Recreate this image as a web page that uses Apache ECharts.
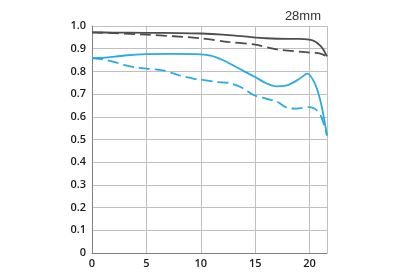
<!DOCTYPE html>
<html><head><meta charset="utf-8">
<script src="https://cdn.jsdelivr.net/npm/echarts@6/dist/echarts.min.js"></script>
<style>html,body{margin:0;padding:0;background:#fff}#c{width:400px;height:280px}</style>
</head><body><div id="c"></div>
<script>
const title = '28mm';
const xTicks = [0, 5, 10, 15, 20];
const yTicks = [0, 0.1, 0.2, 0.3, 0.4, 0.5, 0.6, 0.7, 0.8, 0.9, 1.0];

const sagSolidX = [0, 2, 5, 8, 10, 12, 14, 16, 18, 19, 20, 20.5, 21, 21.3, 21.6];
const sagSolidY = [0.972, 0.971, 0.970, 0.969, 0.967, 0.962, 0.954, 0.946, 0.943, 0.943, 0.940, 0.932, 0.912, 0.893, 0.866];

const merDashX = [0, 5, 10, 12.5, 15, 17, 20, 21, 21.6];
const merDashY = [0.972, 0.962, 0.946, 0.930, 0.918, 0.897, 0.883, 0.878, 0.866];

const blueSolidX = [0, 1, 3, 5, 7, 10, 11, 12, 13, 14, 15, 16, 17, 18, 19, 19.8, 20.5, 21, 21.3, 21.6];
const blueSolidY = [0.859, 0.860, 0.870, 0.876, 0.877, 0.875, 0.868, 0.850, 0.826, 0.800, 0.775, 0.748, 0.734, 0.740, 0.765, 0.790, 0.745, 0.670, 0.600, 0.518];

const blueDashX = [0, 1, 2, 3, 4, 5, 6.5, 8, 9.4, 10, 11.5, 12.5, 13.7, 14.9, 16, 17, 17.9, 18.8, 20, 20.5, 21, 21.3, 21.6];
const blueDashY = [0.859, 0.853, 0.842, 0.828, 0.818, 0.812, 0.805, 0.783, 0.767, 0.764, 0.753, 0.750, 0.730, 0.695, 0.680, 0.667, 0.640, 0.636, 0.643, 0.635, 0.607, 0.570, 0.518];

const zip = (xs, ys) => xs.map((x, i) => [x, ys[i]]);
const chart = echarts.init(document.getElementById('c'), null, {renderer: 'canvas'});
const labelFont = {color: '#1a1a1a', fontFamily: 'Open Sans', fontSize: 11, fontWeight: 600};
const mk = (name, xs, ys, color, type) => ({
  name, type: 'line', data: zip(xs, ys), smooth: 0.3, symbol: 'none',
  lineStyle: {color, width: 1.8, type: type === 'dashed' ? [11, 5] : 'solid'}
});
chart.setOption({
  animation: false,
  title: {text: title, right: 74, top: 5, textStyle: {fontFamily: 'Liberation Sans', fontWeight: 'normal', fontSize: 13, color: '#333'}},
  grid: {left: 92, right: 73, top: 26, bottom: 27},
  xAxis: {
    type: 'value', min: 0, max: 21.6, interval: 5,
    axisLine: {show: true, lineStyle: {color: '#808080', width: 1}},
    axisTick: {show: false},
    axisLabel: Object.assign({margin: 5, showMaxLabel: false,
      formatter: v => xTicks.includes(v) ? String(v) : ''}, labelFont),
    splitLine: {show: true, lineStyle: {color: '#c0c0c0', width: 1}}
  },
  yAxis: {
    type: 'value', min: 0, max: 1, interval: 0.1,
    axisLine: {show: true, lineStyle: {color: '#808080', width: 1}},
    axisTick: {show: false},
    axisLabel: Object.assign({margin: 6,
      formatter: v => { const t = yTicks.find(k => Math.abs(k - v) < 1e-9); return t === 0 ? '0' : t.toFixed(1); }}, labelFont),
    splitLine: {show: true, lineStyle: {color: '#c0c0c0', width: 1}}
  },
  series: [
    mk('S solid', sagSolidX, sagSolidY, '#4d4d4d', 'solid'),
    mk('M dashed', merDashX, merDashY, '#4d4d4d', 'dashed'),
    mk('blue solid', blueSolidX, blueSolidY, '#29abe2', 'solid'),
    mk('blue dashed', blueDashX, blueDashY, '#29abe2', 'dashed')
  ]
});
</script></body></html>
